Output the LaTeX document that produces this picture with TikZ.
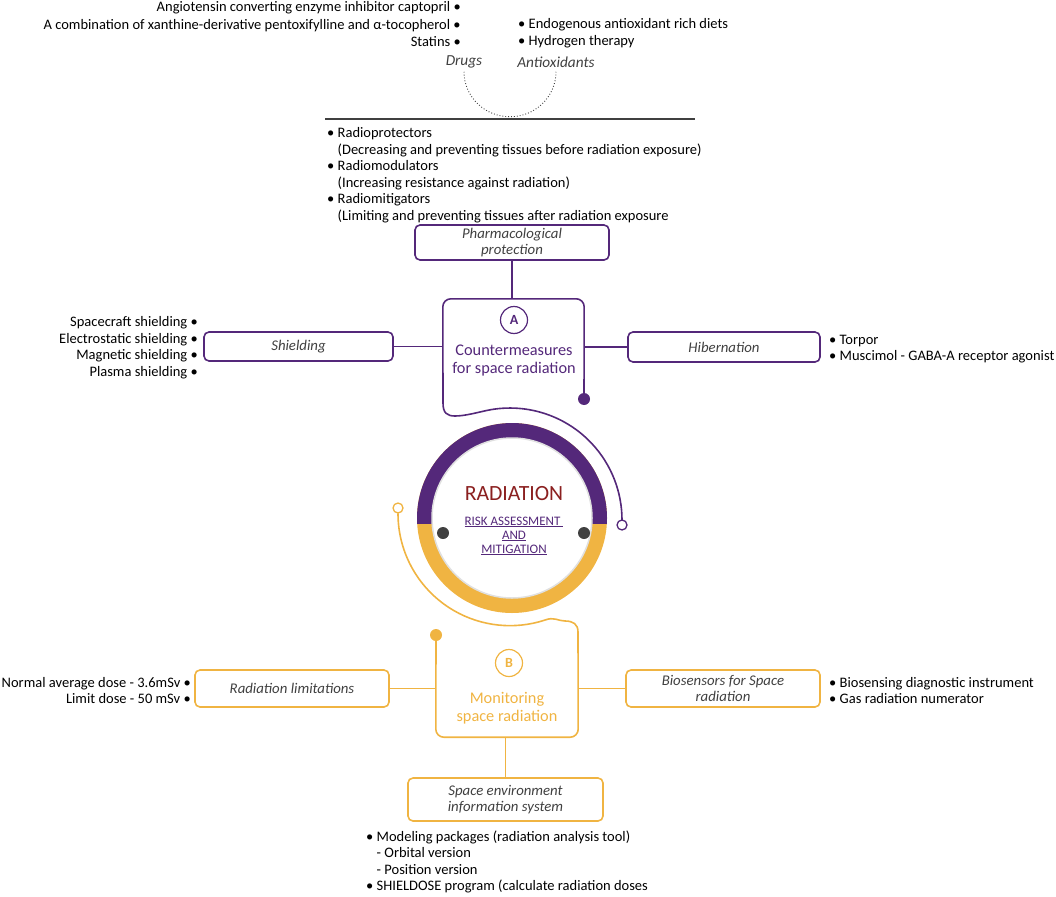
\documentclass[tikz,border=0pt]{standalone}
\usepackage{fontspec}
\setmainfont{Carlito}
\usetikzlibrary{positioning,calc}

\definecolor{purp}{RGB}{84,40,122}
\definecolor{gold}{RGB}{240,180,66}
\definecolor{labgray}{RGB}{64,64,64}
\definecolor{radred}{RGB}{139,32,32}
\definecolor{dotgray}{RGB}{64,64,64}

\newcommand{\bul}{\textbullet\ }
\newcommand{\ind}{\hphantom{\textbullet\ }}

\begin{document}
\begin{tikzpicture}[x=1pt, y=-1pt,
  box/.style={rectangle, rounded corners=5, line width=1.6, align=center, inner sep=0, font=\fontsize{14.8}{16.5}\selectfont\itshape, text=labgray},
  pbox/.style={box, draw=purp},
  gbox/.style={box, draw=gold},
  lst/.style={inner sep=0, font=\fontsize{14.5}{16.5}\selectfont},
  lab/.style={font=\fontsize{15.3}{17}\selectfont\itshape, text=labgray},
  plink/.style={purp, line width=1.1},
  glink/.style={gold, line width=1.1},
  pline/.style={purp, line width=1.6, line cap=round},
  gline/.style={gold, line width=1.6, line cap=round},
  dot/.style={circle, inner sep=0, minimum size=12},
  endring/.style={circle, draw, fill=white, inner sep=0, minimum size=10, line width=1.3},
  letter/.style={circle, inner sep=0, minimum size=27, line width=1.2, font=\fontsize{14}{14}\selectfont\bfseries}]

\useasboundingbox (0,0) rectangle (1056,896);

% drugs and antioxidants
\node[lst, anchor=east, align=right, font=\fontsize{14.5}{17.5}\selectfont] (drugl) at (461,24.5) {Angiotensin converting enzyme inhibitor captopril \textbullet\\A combination of xanthine-derivative pentoxifylline and α-tocopherol \textbullet\\Statins \textbullet};
\node[lst, anchor=west, align=left, font=\fontsize{14.5}{17.5}\selectfont] (antil) at (518,33) {\bul Endogenous antioxidant rich diets\\\bul Hydrogen therapy};
\node[lab] (drugs) at (464,62) {Drugs};
\node[lab] (antiox) at (556,62) {Antioxidants};
\draw[dotted, line width=0.9, labgray] (drugs.south) arc[start angle=180, end angle=0, x radius=46, y radius=45];
\draw[labgray, line width=1.3] (325,119) -- (695,119);

% pharmacological protection
\node[lst, anchor=west, align=left] (pharml) at (327,175) {\bul Radioprotectors\\\ind(Decreasing and preventing tissues before radiation exposure)\\\bul Radiomodulators\\\ind(Increasing resistance against radiation)\\\bul Radiomitigators\\\ind(Limiting and preventing tissues after radiation exposure};
\node[pbox, minimum width=194, minimum height=35] (pharm) at (512,242.5) {Pharmacological\\protection};

% A: countermeasures
\node[minimum width=141, minimum height=108, inner sep=0] (Abox) at (513.5,353) {};
\node[letter, draw=purp, text=purp] (Aletter) at (514,320) {A};
\node[text=purp, align=center, font=\fontsize{16.3}{18}\selectfont] (Atext) at (514,361) {Countermeasures\\for space radiation};
\node[dot, fill=purp] (Adot) at (584,399) {};
\node[endring, draw=purp] (Aend) at (622,525) {};
\draw[pline, rounded corners=8] (Adot.center) -- (Abox.north east) -- (Abox.north west) -- (443,403);
\draw[pline] (443,403) .. controls (443,413) and (447,416) .. (455,416) .. controls (464,416) and (475,413.1) .. (484.8,410.9) arc[start angle=-103, end angle=0, radius=112] -- (Aend.north);

\node[pbox, minimum width=189, minimum height=29] (shield) at (298.5,346.5) {Shielding};
\node[pbox, minimum width=192, minimum height=30] (hib) at (724,347) {Hibernation};
\draw[plink] (pharm) -- (pharm.south |- Abox.north);
\draw[plink] (shield) -- (shield.east -| Abox.west);
\draw[plink] (hib) -- (hib.west -| Abox.east);
\node[lst, anchor=east, align=right] (shieldl) at (198,347.5) {Spacecraft shielding \textbullet\\Electrostatic shielding \textbullet\\Magnetic shielding \textbullet\\Plasma shielding \textbullet};
\node[lst, anchor=west, align=left] (hibl) at (829,349) {\bul Torpor\\\bul Muscimol - GABA-A receptor agonist};

% radiation ring
\node[circle, fill=gold, minimum size=190, inner sep=0] (ring) at (512,518) {};
\begin{scope}
  \clip (400,400) rectangle (620,523);
  \fill[purp] (ring.center) circle[radius=95];
\end{scope}
\fill[white] (ring.center) circle[radius=80];
\draw[black!12, line width=1.5] (ring.center) circle[radius=80];
\node[dot, fill=dotgray] (ldot) at (443,533) {};
\node[dot, fill=dotgray] (rdot) at (584,533) {};
\node[text=radred, font=\fontsize{21.7}{22}\selectfont] (rad) at (514,494) {RADIATION};
\node[text=purp, align=center, font=\fontsize{13}{14}\selectfont] (risk) at (514,536) {\underline{RISK ASSESSMENT\ }\\\underline{AND}\\\underline{MITIGATION}};

% B: monitoring
\node[endring, draw=gold] (Bend) at (398,508) {};
\node[dot, fill=gold] (Bdot) at (436,635) {};
\node[minimum width=142, minimum height=112, inner sep=0] (Bbox) at (507,681) {};
\node[letter, draw=gold, text=gold] (Bletter) at (509,663) {B};
\node[text=gold, align=center, font=\fontsize{16.3}{18}\selectfont] (Btext) at (507,708) {Monitoring\\space radiation};
\draw[gline] (Bend.south) arc[start angle=180, end angle=72, radius=112] .. controls (554.1,616.4) and (558,621) .. (565,621) .. controls (573,621) and (578,624) .. (578,632);
\draw[gline, rounded corners=8] (578,632) -- (Bbox.south east) -- (Bbox.south west) -- (Bdot.center);

\node[gbox, minimum width=194, minimum height=37] (rlim) at (292,688.5) {Radiation limitations};
\node[gbox, minimum width=194, minimum height=37] (bios) at (723,688.5) {Biosensors for Space\\radiation};
\node[gbox, minimum width=195, minimum height=43] (senv) at (505.5,799.5) {Space environment\\information system};
\draw[glink] (rlim) -- (rlim.east -| Bbox.west);
\draw[glink] (bios) -- (bios.west -| Bbox.east);
\draw[glink] (senv) -- (senv.north |- Bbox.south);
\node[lst, anchor=east, align=right] (rliml) at (191,690.5) {Normal average dose - 3.6mSv \textbullet\\Limit dose - 50 mSv \textbullet};
\node[lst, anchor=west, align=left] (biosl) at (829,690.5) {\bul Biosensing diagnostic instrument\\\bul Gas radiation numerator};
\node[lst, anchor=west, align=left] (senvl) at (366,862) {\bul Modeling packages (radiation analysis tool)\\\ind- Orbital version\\\ind- Position version\\\bul SHIELDOSE program (calculate radiation doses};

\end{tikzpicture}
\end{document}
